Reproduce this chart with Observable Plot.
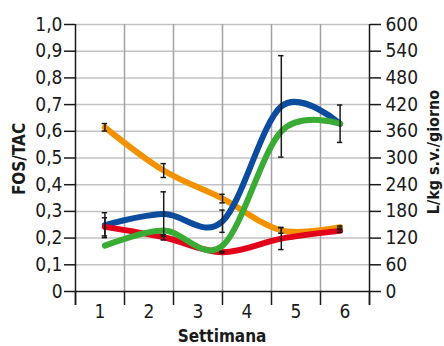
<!DOCTYPE html>
<html><head><meta charset="utf-8">
<script src="https://cdn.jsdelivr.net/npm/d3@7"></script>
<script src="https://cdn.jsdelivr.net/npm/@observablehq/plot@0.6"></script>
<style>body{margin:0;background:#fff;} #chart svg{display:block;}</style>
</head><body><div id="chart"></div>
<script>
// Week categories (x-axis labels)
const weeks = [1, 2, 3, 4, 5, 6];
// Sampling positions of the five measurements along the week axis
const samplePos = [1.1, 2.3, 3.5, 4.7, 5.9];
// Left axis (FOS/TAC) ticks and labels
const leftTicks = [0, 0.1, 0.2, 0.3, 0.4, 0.5, 0.6, 0.7, 0.8, 0.9, 1.0];
const leftTickLabels = ["0", "0,1", "0,2", "0,3", "0,4", "0,5", "0,6", "0,7", "0,8", "0,9", "1,0"];
// Right axis (L/kg s.v./giorno) labels
const rightTickLabels = ["0", "60", "120", "180", "240", "300", "360", "420", "480", "540", "600"];
const rightMax = 600;

// FOS/TAC series (left axis)
const orangeVals = [0.615, 0.453, 0.348, 0.229, 0.241];
const orangeErr  = [0.014, 0.026, 0.016, 0.011, 0.004];
const redVals    = [0.242, 0.203, 0.147, 0.198, 0.227];
const redErr     = [0.034, 0.010, 0.003, 0.041, 0.005];
// Specific production series (right axis, L/kg s.v./giorno)
const blueVals   = [149, 174, 158, 416, 377];
const blueErr    = [28, 50, 25, 114, 42];
const greenVals  = [103, 137, 103, 360, 377];

const colors = {orange: "#f39200", blue: "#0c4c9e", red: "#e3001b", green: "#3aab35"};

const rows = [];
function add(name, vals, errs, scale) {
  vals.forEach((v, i) => rows.push({
    series: name, x: samplePos[i], y: v / scale,
    err: errs ? errs[i] / scale : null
  }));
}
add("orange", orangeVals, orangeErr, 1);
add("blue", blueVals, blueErr, rightMax);
add("red", redVals, redErr, 1);
add("green", greenVals, null, rightMax);

const errRows = rows.filter(d => d.err != null);
const capHalf = 0.055;
const bounds = [0.5, ...weeks.map(w => w + 0.5)];
const font = "'Liberation Sans Narrow', 'DejaVu Sans Condensed', sans-serif";
const ink = "#1a1a1a";

const order = ["orange", "blue", "red", "green"];

const plot = Plot.plot({
  width: 444,
  height: 346,
  marginTop: 24,
  marginBottom: 55,
  marginLeft: 75,
  marginRight: 75,
  style: {fontFamily: font, fontSize: "19px", color: ink, background: "#fff"},
  x: {domain: [0.5, 6.5], axis: null},
  y: {domain: [0, 1], axis: null},
  marks: [
    Plot.ruleY(leftTicks.slice(1), {stroke: "#c3c3c3", strokeWidth: 1.5}),
    Plot.ruleX(bounds.slice(1, -1), {stroke: "#a3a3a3", strokeWidth: 1.5}),
    // x-axis boundary ticks
    Plot.axisX({ticks: bounds, tickSize: 14, tickFormat: () => "", stroke: ink, strokeWidth: 1.5, label: null}),
    // x-axis week labels
    Plot.axisX({ticks: weeks, tickSize: 0, tickPadding: 13, fontSize: 19, tickFormat: d => String(d), label: null}),
    Plot.axisY({ticks: leftTicks, anchor: "left", tickSize: 11, tickPadding: 2, stroke: ink, strokeWidth: 1.5,
      tickFormat: d => leftTickLabels[Math.round(d * 10)], label: null}),
    Plot.axisY({ticks: leftTicks, anchor: "right", tickSize: 11, tickPadding: 5, stroke: ink, strokeWidth: 1.5,
      tickFormat: d => rightTickLabels[Math.round(d * 10)], label: null}),
    Plot.ruleX([0.5, 6.5], {stroke: ink, strokeWidth: 1.5, insetBottom: -14}),
    Plot.ruleY([0], {stroke: ink, strokeWidth: 1.5}),
    ...order.map(s => Plot.line(rows.filter(d => d.series === s), {
      x: "x", y: "y", stroke: colors[s], strokeWidth: 6, curve: "cardinal", tension: 0
    })),
    Plot.ruleX(errRows, {x: "x", y1: d => d.y - d.err, y2: d => d.y + d.err, stroke: ink, strokeWidth: 1.5}),
    Plot.ruleY(errRows, {y: d => d.y - d.err, x1: d => d.x - capHalf, x2: d => d.x + capHalf, stroke: ink, strokeWidth: 1.5}),
    Plot.ruleY(errRows, {y: d => d.y + d.err, x1: d => d.x - capHalf, x2: d => d.x + capHalf, stroke: ink, strokeWidth: 1.5})
  ]
});

// Axis titles as real text
const svg = d3.select(plot);
svg.append("text").attr("transform", "translate(25,159) rotate(-90)")
  .attr("text-anchor", "middle").attr("font-weight", "bold").attr("font-size", 17)
  .attr("fill", ink).text("FOS/TAC");
svg.append("text").attr("transform", "translate(439,152) rotate(-90)")
  .attr("text-anchor", "middle").attr("font-weight", "bold").attr("font-size", 16)
  .attr("fill", ink).text("L/kg s.v./giorno");
svg.append("text").attr("x", 222).attr("y", 342)
  .attr("text-anchor", "middle").attr("font-weight", "bold").attr("font-size", 17)
  .attr("fill", ink).text("Settimana");
document.getElementById("chart").appendChild(plot);
</script>
</body></html>
